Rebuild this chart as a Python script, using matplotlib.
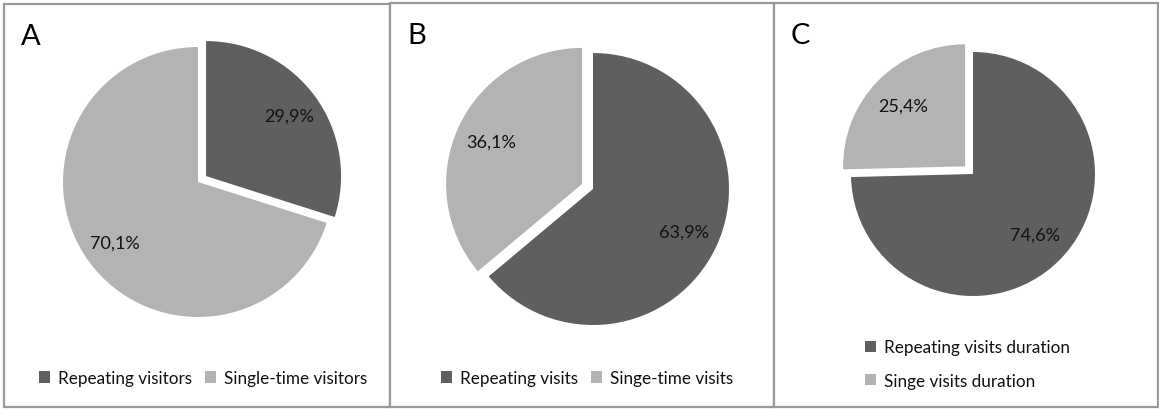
import matplotlib
matplotlib.use("Agg")
import matplotlib.pyplot as plt
from matplotlib.patches import Rectangle

plt.rcParams['font.family'] = ['Lato', 'DejaVu Sans']

# ---- data ----
panel_letters = ["A", "B", "C"]
labels_a = ["Repeating visitors", "Single-time visitors"]
values_a = [29.9, 70.1]
labels_b = ["Repeating visits", "Singe-time visits"]
values_b = [63.9, 36.1]
labels_c = ["Repeating visits duration", "Singe visits duration"]
values_c = [74.6, 25.4]

DARK = "#5f5f5f"
LIGHT = "#b3b3b3"
BORDER = "#9a9a9a"

W, H = 1159, 410
fig = plt.figure(figsize=(W / 100, H / 100), dpi=100)
fig.patch.set_facecolor("white")

# panel layout in image pixels: (x0, y0, x1, y1), pie centre, radius, explode
panels = [
    dict(box=(4, 5, 390, 408), c=(198, 183), r=135, expl=[10, 0], pct=0.76,
         labels=labels_a, vals=values_a, leg=dict(ncol=2, x=203, y=379, loc="center")),
    dict(box=(390, 4, 774, 408), c=(593, 190), r=136, expl=[0, 12], pct=0.74,
         labels=labels_b, vals=values_b, leg=dict(ncol=2, x=587, y=379, loc="center")),
    dict(box=(774, 4, 1158, 408), c=(973, 175), r=122, expl=[0, 11], pct=0.71,
         labels=labels_c, vals=values_c, leg=dict(ncol=1, x=865, y=365, loc="center left")),
]

for letter, p in zip(panel_letters, panels):
    x0, y0, x1, y1 = p["box"]
    w, h = x1 - x0, y1 - y0
    ax = fig.add_axes([x0 / W, (H - y1) / H, w / W, h / H])
    ax.set_xlim(0, w)
    ax.set_ylim(0, h)
    cx, cy = p["c"]
    wedges, texts, autotexts = ax.pie(
        p["vals"], colors=[DARK, LIGHT], startangle=90, counterclock=False,
        explode=p["expl"], center=(cx - x0, y1 - cy), radius=p["r"],
        autopct=lambda v: f"{v:.1f}%".replace(".", ","), pctdistance=p["pct"],
        frame=True, textprops=dict(fontsize=13, color="#111111"),
        wedgeprops=dict(linewidth=0))
    ax.set_xlim(0, w)
    ax.set_ylim(0, h)
    ax.set_xticks([])
    ax.set_yticks([])
    for s in ax.spines.values():
        s.set_visible(False)
    ax.add_patch(Rectangle((0, 0), w, h, fill=False, edgecolor=BORDER,
                           linewidth=1.6, transform=ax.transData, clip_on=False))
    ax.text(17, h - 19, letter, fontsize=21, ha="left", va="top", color="#000000")
    lg = p["leg"]
    ax.legend(wedges, p["labels"], ncol=lg["ncol"], loc=lg["loc"],
              bbox_to_anchor=(lg["x"] - x0, y1 - lg["y"]), bbox_transform=ax.transData,
              frameon=False, fontsize=12.3, handlelength=0.65, handleheight=0.65,
              handletextpad=0.45, columnspacing=0.8, labelspacing=1.0,
              borderpad=0, borderaxespad=0, labelcolor="#111111")

fig.savefig("out.png", dpi=100, facecolor="white")
